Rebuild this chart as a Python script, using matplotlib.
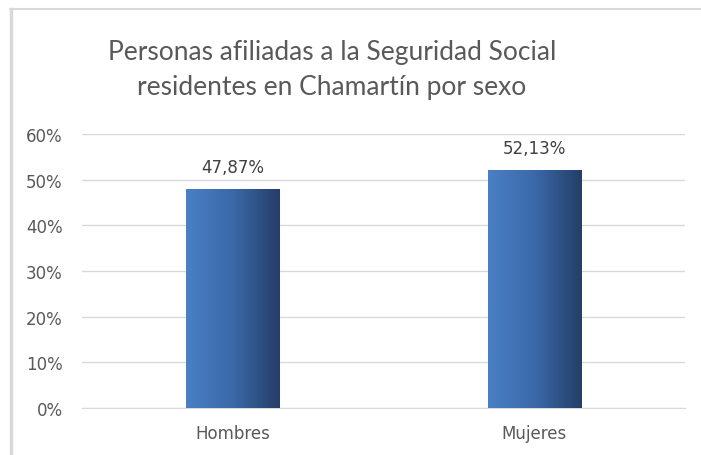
import matplotlib
matplotlib.use("Agg")
import matplotlib.pyplot as plt
import numpy as np
from matplotlib.lines import Line2D
from matplotlib.colors import LinearSegmentedColormap

categories = ["Hombres", "Mujeres"]
values = [0.4787, 0.5213]
value_labels = ["47,87%", "52,13%"]
yticks = [0, 0.1, 0.2, 0.3, 0.4, 0.5, 0.6]
ytick_labels = ["0%", "10%", "20%", "30%", "40%", "50%", "60%"]
title_lines = ["Personas afiliadas a la Seguridad Social",
               "residentes en Chamartín por sexo"]

W, H = 701, 456
fig = plt.figure(figsize=(W / 100, H / 100), dpi=100)
fig.patch.set_facecolor("white")
plt.rcParams['font.family'] = ['DejaVu Sans']

ax = fig.add_axes([82 / W, 1 - 409 / H, (685 - 82) / W, (409 - 135) / H])

text_color = "#595959"
grid_color = "#d9d9d9"

x = np.arange(len(categories))
bars = ax.bar(x, values, width=0.31, color="#3a68a8", zorder=2)

cmap = LinearSegmentedColormap.from_list("g", ["#4a80c6", "#3a69a8", "#243e67"])
grad = np.linspace(0, 1, 256).reshape(1, -1)
for b in bars:
    x0, y0 = b.get_x(), b.get_y()
    w, h = b.get_width(), b.get_height()
    im = ax.imshow(grad, cmap=cmap, aspect="auto", extent=[x0, x0 + w, y0, y0 + h], zorder=3)
    im.set_clip_path(b)
ax.set_xlim(-0.5, 1.5)
ax.set_ylim(0, 0.6)

for xi, v, lab in zip(x, values, value_labels):
    ax.annotate(lab, (xi, v), xytext=(0, 12.2), textcoords="offset points",
                ha="center", va="baseline", fontsize=12, color="#404040")

ax.set_yticks(yticks)
ax.set_yticklabels(ytick_labels)
ax.set_xticks(x)
ax.set_xticklabels(categories)
ax.tick_params(axis="both", length=0, labelsize=12, colors=text_color)
ax.tick_params(axis="y", pad=14)
ax.tick_params(axis="x", pad=11.5)
ax.grid(axis="y", color=grid_color, linewidth=1, zorder=0)
ax.set_axisbelow(True)
for s in ["top", "right", "left"]:
    ax.spines[s].set_visible(False)
ax.spines["bottom"].set_color(grid_color)

for i, (line, yb) in enumerate(zip(title_lines, [60, 95])):
    fig.text(332 / W, 1 - yb / H, line, ha="center", va="baseline", fontsize=19,
             color=text_color, family=["Lato", "DejaVu Sans"], fontweight="normal")

fig.add_artist(Line2D([11 / W, 11 / W], [0, 1 - 10 / H], color=grid_color, linewidth=2.5,
                      transform=fig.transFigure))
fig.add_artist(Line2D([10 / W, 1], [1 - 10 / H, 1 - 10 / H], color=grid_color, linewidth=1.5,
                      transform=fig.transFigure))

fig.savefig("out.png", dpi=100, facecolor="white")
